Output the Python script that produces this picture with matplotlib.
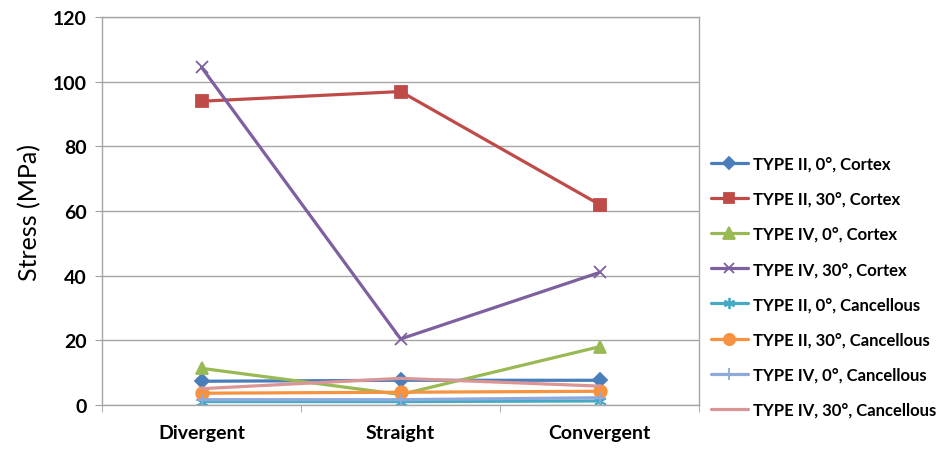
import matplotlib
matplotlib.use("Agg")
import matplotlib.pyplot as plt
from matplotlib.ticker import FixedLocator

plt.rcParams['font.family'] = ['Lato', 'DejaVu Sans']

categories = ["Divergent", "Straight", "Convergent"]

t2_0_cortex = [7.3, 7.6, 7.6]
t2_30_cortex = [94.0, 97.0, 62.0]
t4_0_cortex = [11.3, 3.2, 18.0]
t4_30_cortex = [104.5, 20.4, 41.0]
t2_0_cancellous = [1.0, 1.0, 1.2]
t2_30_cancellous = [3.6, 3.9, 4.2]
t4_0_cancellous = [1.6, 1.6, 2.2]
t4_30_cancellous = [5.0, 8.2, 5.8]

series = [
    ("TYPE II, 0°, Cortex", t2_0_cortex, "#4A7EBB", "D", 7),
    ("TYPE II, 30°, Cortex", t2_30_cortex, "#BE4B48", "s", 8),
    ("TYPE IV, 0°, Cortex", t4_0_cortex, "#98B954", "^", 9),
    ("TYPE IV, 30°, Cortex", t4_30_cortex, "#7D60A0", "x", 8),
    ("TYPE II, 0°, Cancellous", t2_0_cancellous, "#46AAC5", (6, 2, 0), 9),
    ("TYPE II, 30°, Cancellous", t2_30_cancellous, "#F69240", "o", 9),
    ("TYPE IV, 0°, Cancellous", t4_0_cancellous, "#8EA9DB", "+", 9),
    ("TYPE IV, 30°, Cancellous", t4_30_cancellous, "#DA9694", None, 0),
]

fig = plt.figure(figsize=(9.36, 4.56), dpi=100)
ax = fig.add_axes([0.109, 0.11, 0.638, 0.85])

x = list(range(len(categories)))
for label, vals, color, marker, ms in series:
    ax.plot(x, vals, color=color, lw=2.3, marker=marker, ms=ms,
            mew=1.3, label=label, solid_capstyle="round")

ax.set_xlim(-0.5, 2.5)
ax.set_ylim(0, 120)
ax.set_yticks(range(0, 121, 20))
ax.set_xticks(x)
ax.set_xticklabels(categories)
ax.xaxis.set_minor_locator(FixedLocator([-0.5, 0.5, 1.5, 2.5]))
ax.tick_params(axis="x", which="major", length=0, pad=14, labelsize=14)
ax.tick_params(axis="x", which="minor", length=5, color="#A0A0A0")
ax.tick_params(axis="y", length=5, color="#A0A0A0", labelsize=14, pad=6)
for lbl in ax.get_xticklabels() + ax.get_yticklabels():
    lbl.set_fontweight("bold")

ax.grid(axis="y", color="#A6A6A6", lw=1.0)
ax.set_axisbelow(True)
for side in ax.spines.values():
    side.set_color("#A6A6A6")
    side.set_linewidth(1.0)

ax.set_ylabel("Stress (MPa)", fontsize=18, labelpad=8)

leg = ax.legend(loc="center left", bbox_to_anchor=(1.0, 0.305), frameon=False,
                prop={"weight": "bold", "size": 12}, handlelength=2.2,
                handletextpad=0.3, labelspacing=1.15, borderaxespad=0.3,
                markerscale=0.9)

fig.savefig("out.png", dpi=100)
